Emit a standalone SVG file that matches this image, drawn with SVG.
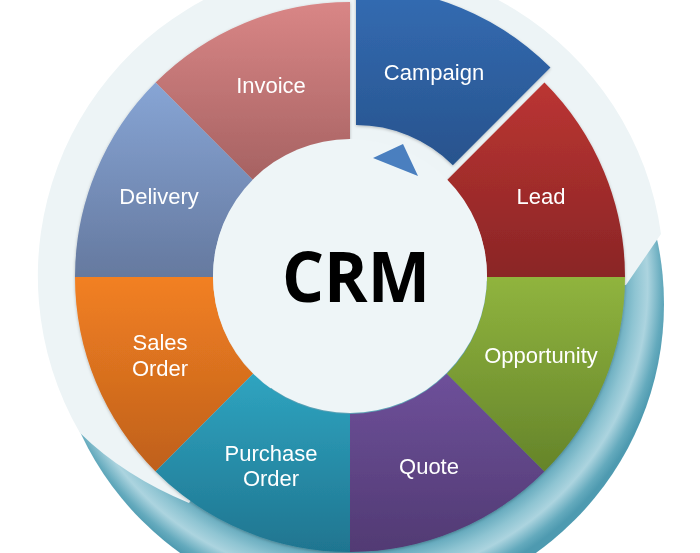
<svg xmlns="http://www.w3.org/2000/svg" width="700" height="553" viewBox="0 0 700 553">
<defs>
<style>
.lbl{font-family:"Liberation Sans",Arial,sans-serif;font-size:22px;fill:#ffffff;text-anchor:middle}
.crm{font-family:"Open Sans","Liberation Sans",sans-serif;font-weight:700;font-size:70px;fill:#000000;text-anchor:middle}
</style>
<linearGradient id="gInv" x1="0" y1="0" x2="0" y2="1"><stop offset="0" stop-color="#d98686"/><stop offset="1" stop-color="#a66262"/></linearGradient>
<linearGradient id="gDel" x1="0" y1="0" x2="0" y2="1"><stop offset="0" stop-color="#87a5d5"/><stop offset="1" stop-color="#65799f"/></linearGradient>
<linearGradient id="gSal" x1="0" y1="0" x2="0" y2="1"><stop offset="0" stop-color="#f28022"/><stop offset="1" stop-color="#bf601c"/></linearGradient>
<linearGradient id="gPur" x1="0" y1="0" x2="0" y2="1"><stop offset="0" stop-color="#2fa4c0"/><stop offset="1" stop-color="#1f7590"/></linearGradient>
<linearGradient id="gQuo" x1="0" y1="0" x2="0" y2="1"><stop offset="0" stop-color="#6e509a"/><stop offset="1" stop-color="#513a73"/></linearGradient>
<linearGradient id="gOpp" x1="0" y1="0" x2="0" y2="1"><stop offset="0" stop-color="#90b43e"/><stop offset="1" stop-color="#65842a"/></linearGradient>
<linearGradient id="gLea" x1="0" y1="0" x2="0" y2="1"><stop offset="0" stop-color="#bb3532"/><stop offset="1" stop-color="#8a2526"/></linearGradient>
<linearGradient id="gCam" x1="0" y1="0" x2="0" y2="1"><stop offset="0" stop-color="#336cb3"/><stop offset="1" stop-color="#28538d"/></linearGradient>
<radialGradient id="gTeal" gradientUnits="userSpaceOnUse" cx="352" cy="285" r="318">
<stop offset="0.84" stop-color="#5fa6ba"/>
<stop offset="0.89" stop-color="#8ec4d2"/>
<stop offset="0.93" stop-color="#acd4df"/>
<stop offset="0.975" stop-color="#64aabd"/>
<stop offset="1" stop-color="#4e9ab0"/>
</radialGradient>
<filter id="sh" x="-10%" y="-10%" width="120%" height="120%">
<feDropShadow dx="0" dy="1" stdDeviation="1.5" flood-color="#000" flood-opacity="0.25"/>
</filter>
</defs>

<g id="background">
<circle cx="358" cy="304" r="306" fill="url(#gTeal)"/>
<path d="M 80,433 A 313 313 0 1 1 661,234 L 626,285 L 350,277 L 189,503 Q 124,476 80,433 Z" fill="#edf4f6"/>
</g>

<g id="ring" filter="url(#sh)">
<g id="invoice">
<path d="M 253.13,180.13 L 155.55,82.55 A 275 275 0 0 1 350,2 L 350,140 A 137 137 0 0 0 253.13,180.13 Z" fill="url(#gInv)"/>
<text class="lbl" x="271" y="93">Invoice</text>
</g>
<g id="delivery">
<path d="M 213,277 L 75,277 A 275 275 0 0 1 155.55,82.55 L 253.13,180.13 A 137 137 0 0 0 213,277 Z" fill="url(#gDel)"/>
<text class="lbl" x="159" y="204">Delivery</text>
</g>
<g id="sales-order">
<path d="M 253.13,373.87 L 155.55,471.45 A 275 275 0 0 1 75,277 L 213,277 A 137 137 0 0 0 253.13,373.87 Z" fill="url(#gSal)"/>
<text class="lbl" x="160" y="350">Sales</text>
<text class="lbl" x="160" y="376">Order</text>
</g>
<g id="purchase-order">
<path d="M 350,414 L 350,552 A 275 275 0 0 1 155.55,471.45 L 253.13,373.87 A 137 137 0 0 0 350,414 Z" fill="url(#gPur)"/>
<text class="lbl" x="271" y="461">Purchase</text>
<text class="lbl" x="271" y="486">Order</text>
</g>
<g id="quote">
<path d="M 446.87,373.87 L 544.45,471.45 A 275 275 0 0 1 350,552 L 350,414 A 137 137 0 0 0 446.87,373.87 Z" fill="url(#gQuo)"/>
<text class="lbl" x="429" y="474">Quote</text>
</g>
<g id="opportunity">
<path d="M 487,277 L 625,277 A 275 275 0 0 1 544.45,471.45 L 446.87,373.87 A 137 137 0 0 0 487,277 Z" fill="url(#gOpp)"/>
<text class="lbl" x="541" y="363">Opportunity</text>
</g>
<g id="lead">
<path d="M 446.87,180.13 L 544.45,82.55 A 275 275 0 0 1 625,277 L 487,277 A 137 137 0 0 0 446.87,180.13 Z" fill="url(#gLea)"/>
<text class="lbl" x="541" y="204">Lead</text>
</g>
<g id="campaign" transform="translate(6,-15)">
<path d="M 350,140 L 350,2 A 275 275 0 0 1 544.45,82.55 L 446.87,180.13 A 137 137 0 0 0 350,140 Z" fill="url(#gCam)"/>
<text class="lbl" x="428" y="95">Campaign</text>
</g>
</g>

<g id="crm">
<circle cx="350" cy="276" r="137" fill="#eef5f7"/>
<text class="crm" x="356" y="302" textLength="148" lengthAdjust="spacingAndGlyphs">CRM</text>
</g>

<g id="connectors">
<polygon points="373,158 403,144 418,176" fill="#4a7fbf"/>
</g>
</svg>
